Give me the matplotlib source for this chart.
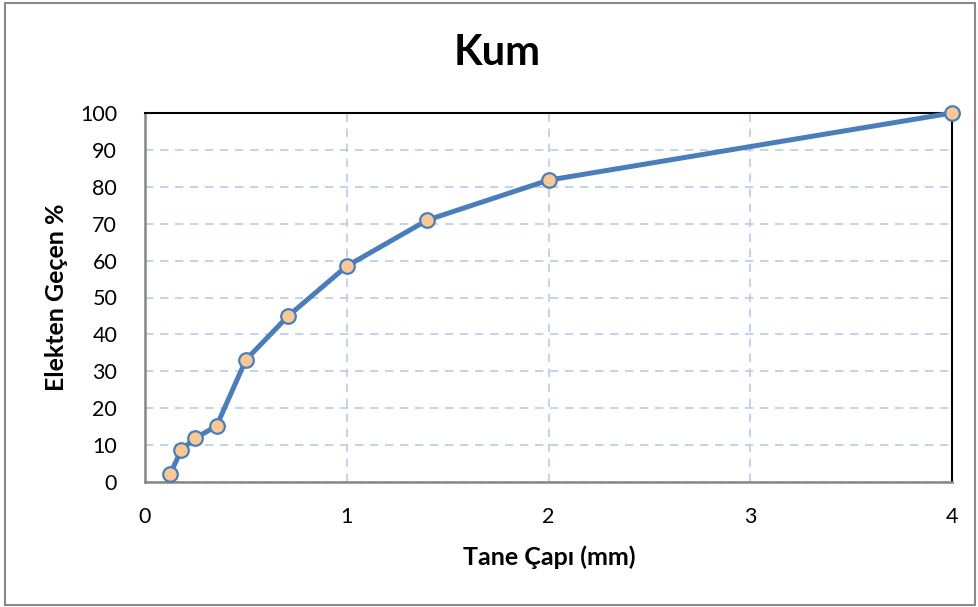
import matplotlib
matplotlib.use("Agg")
import matplotlib.pyplot as plt
from matplotlib.patches import Rectangle

plt.rcParams['font.family'] = ['Lato', 'DejaVu Sans']

# Data
sieve_mm = [0.125, 0.18, 0.25, 0.355, 0.5, 0.71, 1.0, 1.4, 2.0, 4.0]
passing_pct = [2.2, 8.7, 11.9, 15.2, 33.1, 45.0, 58.5, 71.0, 81.8, 100.0]
x_ticks = [0, 1, 2, 3, 4]
y_ticks = list(range(0, 101, 10))
title = "Kum"
x_label = "Tane Çapı (mm)"
y_label = "Elekten Geçen %"

fig = plt.figure(figsize=(9.79, 6.07), dpi=100)
ax = fig.add_axes([145/979, 1-482/607, (952-145)/979, (482-113)/607])

ax.plot(sieve_mm, passing_pct, color='#4A7EBB', linewidth=3.6,
        marker='o', markersize=10.5, markerfacecolor='#FAC896',
        markeredgecolor='#4A7EBB', markeredgewidth=1.6, zorder=5, clip_on=False)

ax.set_xlim(0, 4)
ax.set_ylim(0, 100)
ax.set_xticks(x_ticks)
ax.set_yticks(y_ticks)
ax.tick_params(axis='both', length=0, labelsize=15.5, colors='black')
ax.tick_params(axis='y', pad=20)
ax.tick_params(axis='x', pad=18)

ax.grid(True, color='#B9CDE5', linestyle=(0, (5, 4)), linewidth=1.2)
ax.set_axisbelow(True)

for s in ['top', 'right']:
    ax.spines[s].set_color('black')
    ax.spines[s].set_linewidth(1.5)
for s in ['left', 'bottom']:
    ax.spines[s].set_color('#868686')
    ax.spines[s].set_linewidth(1.8)

fig.text(497/979, 1-53/607, title, fontsize=30, fontweight='bold', ha='center', va='center')
fig.text(549/979, 1-557/607, x_label, fontsize=18, fontweight='bold', ha='center', va='center')
fig.text(57/979, 1-297/607, y_label, fontsize=18, fontweight='bold', ha='center', va='center', rotation=90)

fig.patches.append(Rectangle((5/979, 2/607), 970/979, 602/607, transform=fig.transFigure,
                             fill=False, edgecolor='#898989', linewidth=1.5))

fig.savefig('out.png', dpi=100)
